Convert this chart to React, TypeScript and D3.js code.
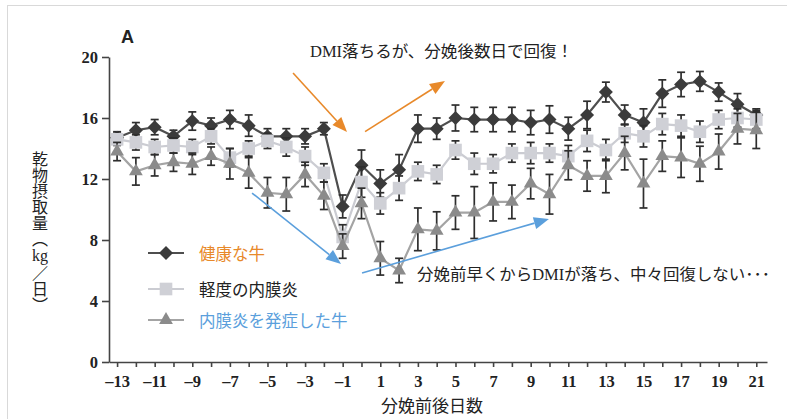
import React, { useEffect, useRef } from "react";
import * as d3 from "d3";

const width = 787;
const height = 419;
const margin = { top: 57, right: 20, bottom: 57, left: 109 };

// days relative to calving
const days = [
  -13, -12, -11, -10, -9, -8, -7, -6, -5, -4, -3, -2, -1, 0, 1, 2, 3, 4,
  5, 6, 7, 8, 9, 10, 11, 12, 13, 14, 15, 16, 17, 18, 19, 20, 21,
];
const yTicks = [0, 4, 8, 12, 16, 20];

// 健康な牛
const healthy = [
  14.7, 15.2, 15.4, 14.8, 15.8, 15.5, 15.9, 15.5, 14.8, 14.8, 14.8, 15.3,
  10.2, 12.9, 11.7, 12.6, 15.3, 15.3, 16.0, 15.9, 15.9, 15.9, 15.7, 15.9,
  15.3, 16.2, 17.7, 16.2, 15.7, 17.6, 18.2, 18.4, 17.7, 16.9, 16.2,
];
const healthySE = [
  0.4, 0.5, 0.5, 0.4, 0.6, 0.5, 0.6, 0.7, 0.5, 0.5, 0.5, 0.4, 0.75, 1.0,
  0.9, 1.0, 0.9, 0.7, 0.85, 0.8, 0.8, 0.8, 0.8, 0.9, 0.75, 0.9, 0.65, 0.65,
  0.9, 0.9, 0.8, 0.65, 0.6, 0.7, 0.4,
];

// 軽度の内膜炎
const mild = [
  14.6, 14.4, 14.1, 14.2, 14.1, 14.8, 13.4, 14.0, 14.5, 14.1, 13.5, 12.4,
  8.2, 11.8, 10.4, 11.4, 12.5, 12.3, 13.9, 13.0, 13.0, 13.7, 13.7, 13.7,
  13.5, 14.5, 13.9, 15.0, 14.8, 15.6, 15.5, 15.1, 15.9, 16.0, 15.9,
];
const mildSE = [
  0.4, 0.5, 0.5, 0.5, 0.5, 0.5, 0.6, 0.5, 0.5, 0.6, 0.6, 0.6, 0.8, 1.0,
  0.7, 0.8, 0.6, 0.6, 0.6, 0.7, 0.6, 0.6, 0.7, 0.6, 0.7, 0.7, 0.7, 0.6,
  0.7, 0.7, 0.7, 0.7, 0.6, 0.6, 0.6,
];

// 内膜炎を発症した牛
const metritis = [
  13.8, 12.5, 12.9, 13.1, 13.0, 13.5, 13.0, 12.4, 11.1, 11.0, 12.3, 10.9,
  7.6, 10.4, 6.8, 6.0, 8.7, 8.6, 9.8, 9.8, 10.5, 10.5, 11.7, 11.0,
  12.9, 12.2, 12.2, 13.7, 11.7, 13.5, 13.4, 13.0, 13.8, 15.3, 15.2,
];
const metritisSE = [
  0.6, 0.9, 0.7, 0.6, 0.7, 0.6, 1.0, 1.0, 1.0, 1.1, 0.8, 0.9, 0.8, 1.0,
  1.1, 0.8, 1.4, 1.25, 1.1, 1.7, 1.25, 1.1, 1.0, 1.3, 0.95, 1.0, 1.1, 1.1,
  1.6, 1.0, 1.3, 1.15, 1.15, 1.0, 1.2,
];

const seriesNames = ["健康な牛", "軽度の内膜炎", "内膜炎を発症した牛"];

const series = [
  { values: healthy, se: healthySE, symbol: d3.symbolDiamond2, size: 125, fill: "#3b3b3b", line: "#4e4e4e", label: "#e8892a" },
  { values: mild, se: mildSE, symbol: d3.symbolSquare, size: 160, fill: "#cfd0d6", line: "#cbccd2", label: "#222" },
  { values: metritis, se: metritisSE, symbol: d3.symbolTriangle, size: 82, fill: "#8b8b8b", line: "#a4a4a4", label: "#5b9fdc" },
];

const jpFont = "'Liberation Serif', 'Noto Sans CJK JP', serif";
const tickFont = "'Liberation Serif', 'Times New Roman', serif";

export default function App() {
  const xAxisRef = useRef<SVGGElement>(null);
  const yAxisRef = useRef<SVGGElement>(null);

  const x = d3.scaleLinear().domain([-13.43, 21.57]).range([margin.left, width - margin.right]);
  const y = d3.scaleLinear().domain([0, 20]).range([height - margin.bottom, margin.top]);

  useEffect(() => {
    const xAxis = d3
      .axisBottom(x)
      .tickValues(days)
      .tickSize(5)
      .tickSizeOuter(0)
      .tickPadding(8)
      .tickFormat((d) => ((d as number) % 2 !== 0 ? String(d).replace("-", "–") : ""));
    const gx = d3.select(xAxisRef.current);
    gx.call(xAxis);

    const yAxis = d3.axisLeft(y).tickValues(yTicks).tickSize(7).tickSizeOuter(0).tickPadding(4);
    const gy = d3.select(yAxisRef.current);
    gy.call(yAxis);

    [gx, gy].forEach((g) => {
      g.attr("font-family", tickFont);
      g.selectAll("text")
        .attr("font-family", tickFont)
        .attr("font-weight", "bold")
        .attr("font-size", 16.5)
        .attr("fill", "#222");
      g.selectAll("path, line").attr("stroke", "#444").attr("stroke-width", 1.6);
    });
  }, []);

  const lineGen = d3
    .line<number>()
    .x((_, i) => x(days[i]))
    .y((d) => y(d));

  const arrow = (x1: number, y1: number, x2: number, y2: number, color: string, key: string) => {
    const ax = x(x1), ay = y(y1), bx = x(x2), by = y(y2);
    const ang = Math.atan2(by - ay, bx - ax);
    const len = 15, half = 6;
    const baseX = bx - len * Math.cos(ang), baseY = by - len * Math.sin(ang);
    const px = -Math.sin(ang) * half, py = Math.cos(ang) * half;
    return (
      <g key={key}>
        <line x1={ax} y1={ay} x2={baseX} y2={baseY} stroke={color} strokeWidth={1.6} />
        <path d={`M${bx},${by}L${baseX + px},${baseY + py}L${baseX - px},${baseY - py}Z`} fill={color} />
      </g>
    );
  };

  const vertical = { writingMode: "vertical-rl" as const };

  return (
    <svg width={width} height={height} style={{ position: "absolute", left: 0, top: 0, background: "#fff" }}>
      <rect x={7.5} y={5.5} width={width} height={height} fill="none" stroke="#d9d9d9" />

      <text x={121} y={43} fontFamily="'Liberation Sans', Arial, sans-serif" fontWeight="bold" fontSize={18} fill="#222">A</text>

      <g ref={xAxisRef} transform={`translate(0, ${height - margin.bottom})`} />
      <g ref={yAxisRef} transform={`translate(${margin.left}, 0)`} />

      {series.map((s, si) => (
        <g key={si}>
          <path d={lineGen(s.values) || ""} fill="none" stroke={s.line} strokeWidth={2.2} />
          {s.values.map((v, i) => {
            const cx = x(days[i]);
            const top = y(v + s.se[i]);
            const bot = y(v - s.se[i]);
            return (
              <g key={i} stroke="#2e2e2e" strokeWidth={1.7}>
                <line x1={cx} x2={cx} y1={top} y2={bot} />
                <line x1={cx - 4} x2={cx + 4} y1={top} y2={top} />
                <line x1={cx - 4} x2={cx + 4} y1={bot} y2={bot} />
              </g>
            );
          })}
          {s.values.map((v, i) => (
            <path
              key={"m" + i}
              transform={`translate(${x(days[i])}, ${y(v)})`}
              d={d3.symbol().type(s.symbol).size(s.size)() || ""}
              fill={s.fill}
            />
          ))}
        </g>
      ))}

      {/* annotations */}
      {arrow(-3.64, 18.95, -0.77, 15.08, "#e8892a", "o1")}
      {arrow(0.19, 15.11, 4.44, 18.43, "#e8892a", "o2")}
      {arrow(-5.82, 11.08, -1.09, 6.43, "#5b9fdc", "b1")}
      {arrow(0.03, 5.84, 9.97, 9.38, "#5b9fdc", "b2")}

      <text x={310} y={57} fontFamily={jpFont} fontSize={16} fill="#222" textLength={263} lengthAdjust="spacingAndGlyphs">
        DMI落ちるが、分娩後数日で回復！
      </text>
      <text x={417} y={280} fontFamily={jpFont} fontSize={16} fill="#222" textLength={353} lengthAdjust="spacingAndGlyphs">
        分娩前早くからDMIが落ち、中々回復しない･･･
      </text>

      {/* legend */}
      {series.map((s, si) => {
        const ly = [253, 289, 320][si];
        return (
          <g key={"lg" + si}>
            <line x1={148} x2={184} y1={ly} y2={ly} stroke={s.line} strokeWidth={2.2} />
            <path transform={`translate(166, ${ly})`} d={d3.symbol().type(s.symbol).size(s.size)() || ""} fill={s.fill} />
            <text x={199} y={ly + 7} fontFamily={jpFont} fontSize={16.5} fill={s.label}>
              {seriesNames[si]}
            </text>
          </g>
        );
      })}

      {/* y-axis title, written vertically with "kg" upright */}
      <text x={40} y={151} fontFamily="'Noto Sans CJK JP', sans-serif" fontSize={16} fill="#222" style={vertical}>
        乾物摂取量（
      </text>
      <text x={40} y={255} textAnchor="middle" dominantBaseline="central" fontFamily={jpFont} fontSize={16} fill="#222">
        kg
      </text>
      <text x={40} y={265} fontFamily="'Noto Sans CJK JP', sans-serif" fontSize={16} fill="#222" style={vertical}>
        ／日）
      </text>

      <text x={432} y={412} textAnchor="middle" fontFamily={jpFont} fontSize={17} fill="#222">
        分娩前後日数
      </text>
    </svg>
  );
}
